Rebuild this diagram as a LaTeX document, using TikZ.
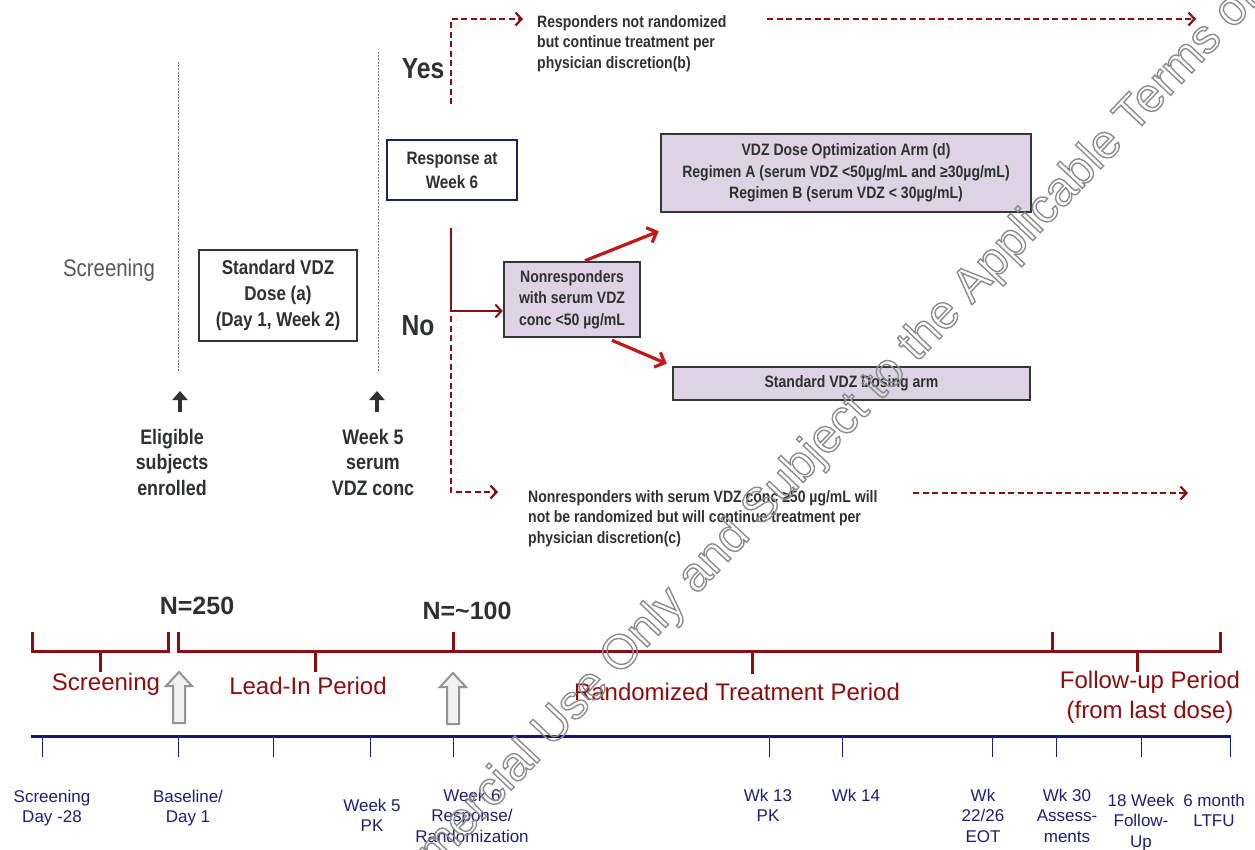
\documentclass[tikz,border=0pt]{standalone}
\usepackage{fontspec}
\setmainfont{Liberation Sans}
\newfontfamily\nar{Liberation Sans}[FakeStretch=0.85]
\usetikzlibrary{arrows.meta,calc}
\definecolor{dred}{RGB}{139,14,14}
\definecolor{bred}{RGB}{196,22,22}
\definecolor{navyt}{RGB}{30,30,118}
\definecolor{navyl}{RGB}{20,20,110}
\definecolor{dtxt}{RGB}{45,50,46}
\definecolor{lil}{RGB}{221,211,229}
\definecolor{boxb}{RGB}{50,56,52}
\definecolor{rbord}{RGB}{25,35,100}
\definecolor{scrg}{RGB}{89,89,89}
\begin{document}
\begin{tikzpicture}[x=1pt,y=-1pt,
  box/.style={draw=boxb, line width=2.6pt, fill=lil, align=center, inner sep=0pt, text=dtxt,
    font=\nar\bfseries\fontsize{16.5}{21.5}\selectfont},
  btxt/.style={align=left, inner sep=0pt, text=dtxt, font=\nar\bfseries\fontsize{16.5}{20.5}\selectfont},
  bigb/.style={inner sep=0pt, text=dtxt, font=\nar\bfseries\fontsize{29}{32}\selectfont},
  lbl/.style={align=center, inner sep=0pt, text=dtxt, font=\nar\bfseries\fontsize{21}{25.5}\selectfont},
  dashline/.style={draw=dred, line width=2.2pt, dash pattern=on 6pt off 3.5pt,
    -{Straight Barb[length=6pt,width=13pt]}},
  solidred/.style={draw=dred, line width=2pt},
  redarrow/.style={draw=bred, line width=3.2pt, -{Straight Barb[length=8pt,width=16pt]}},
  guide/.style={draw=gray, line width=0.7pt, dash pattern=on 2pt off 1.2pt},
  uparr/.style={draw=dtxt, line width=4pt, -{Triangle[length=9pt,width=15pt]}},
  brk/.style={draw=dred, line width=3pt},
  per/.style={inner sep=0pt, text=dred, align=center, font=\fontsize{24}{30}\selectfont},
  nlab/.style={inner sep=0pt, text=dtxt, font=\bfseries\fontsize{25}{28}\selectfont},
  hollow/.style={draw=gray!85, fill=gray!10, line width=2pt, line join=miter},
  navy/.style={draw=navyl, line width=3pt},
  ntick/.style={draw=navyt, line width=1pt},
  tl/.style={align=center, inner sep=0pt, anchor=north, text=navyt, font=\fontsize{17}{20.5}\selectfont}
]
\useasboundingbox (0,0) rectangle (1255,849);

% ---------- top flow ----------
\node[text=scrg, inner sep=0pt, font=\nar\fontsize{24}{28}\selectfont] (scrtop) at (109,270) {Screening};

\draw[guide] (178,62) -- (178,372);
\draw[guide] (378,52) -- (378,372);

\node[box, fill=white, minimum width=158pt, minimum height=91pt,
  font=\nar\bfseries\fontsize{20}{26}\selectfont] (std) at (278,295.5)
  {Standard VDZ\\Dose (a)\\(Day 1, Week 2)};

\coordinate (a1s) at (180,412);
\coordinate (a1e) at (180,391);
\coordinate (a2s) at (377,412);
\coordinate (a2e) at (377,391);
\draw[uparr] (a1s) -- (a1e);
\draw[uparr] (a2s) -- (a2e);

\node[lbl, anchor=north] (elig) at (172,429) {Eligible\\subjects\\enrolled};
\node[lbl, anchor=north] (wk5) at (373,429) {Week 5\\serum\\VDZ conc};

\node[bigb] (yes) at (423,69) {Yes};
\node[bigb] (no) at (418,326) {No};

\node[box, fill=white, draw=rbord, line width=2pt, minimum width=130pt, minimum height=60pt,
  font=\nar\bfseries\fontsize{18}{24}\selectfont] (resp) at (452,170) {Response at\\Week 6};

\node[btxt, anchor=north west] (resptxt) at (537,15)
  {Responders not randomized\\but continue treatment per\\physician discretion(b)};
\node[btxt, anchor=north west] (nrtxt) at (528,490)
  {Nonresponders with serum VDZ conc ≥50 µg/mL will\\not be randomized but will continue treatment per\\physician discretion(c)};

\node[box, minimum width=136pt, minimum height=75pt] (nonresp) at (572,299.5)
  {Nonresponders\\with serum VDZ\\conc <50 µg/mL};
\node[box, minimum width=370pt, minimum height=78pt] (vdz) at (846,173)
  {VDZ Dose Optimization Arm (d)\\Regimen A (serum VDZ <50µg/mL and ≥30µg/mL)\\Regimen B (serum VDZ < 30µg/mL)};
\node[box, minimum width=357pt, minimum height=33pt] (stdarm) at (851.5,383.5)
  {Standard VDZ Dosing arm};

% red connectors
\coordinate (ytop) at (451,104);
\coordinate (ycorner) at (451,19);
\draw[dashline] (ytop) -- (ycorner) -- ($(ycorner -| resptxt.west)+(-14,0)$);
\coordinate (yl1) at (767,19);
\coordinate (yl2) at (1196,19);
\draw[dashline] (yl1) -- (yl2);

\coordinate (ntop) at (451,228);
\coordinate (nj) at (451,311);
\draw[solidred, -{Straight Barb[length=6pt,width=13pt]}] (ntop) -- (nj) -- (nj -| nonresp.west);
\coordinate (nds) at (451,316);
\coordinate (ndc) at (451,492);
\draw[dashline] (nds) -- (ndc) -- ($(ndc -| nrtxt.west)+(-30,0)$);
\coordinate (nl1) at (913,493);
\coordinate (nl2) at (1188,493);
\draw[dashline] (nl1) -- (nl2);

\draw[redarrow] ($(nonresp.north)+(13,0)$) -- ($(vdz.south west)+(-1,18)$);
\draw[redarrow] ($(nonresp.south)+(40,2)$) -- ($(stdarm.north west)+(-5,-2)$);

% ---------- period timeline ----------
\node[nlab] (n250) at (197,606) {N=250};
\node[nlab] (n100) at (467,611) {N=\textasciitilde100};

\draw[brk] (32,632) -- (32,651) -- (168,651) -- (168,632);
\draw[brk] (100,651) -- (100,672);
\draw[brk] (178,632) -- (178,651) -- (1220,651) -- (1220,632);
\draw[brk] (453,632) -- (453,651);
\draw[brk] (315,651) -- (315,672);
\draw[brk] (752,651) -- (752,674);
\draw[brk] (1052,632) -- (1052,651);
\draw[brk] (1137,651) -- (1137,672);

\node[per] (pscr) at (106,684) {Screening};
\node[per] (plead) at (308,686) {Lead-In Period};
\node[per] (prand) at (737,692) {Randomized Treatment Period};
\node[per] (pfol) at (1150,697) {Follow-up Period\\(from last dose)};

\coordinate (h1) at (179,672);
\coordinate (h2) at (453,673);
\draw[hollow] (h1) -- ++(13,14) -- ++(-7,0) -- ++(0,37) -- ++(-12,0) -- ++(0,-37) -- ++(-7,0) -- cycle;
\draw[hollow] (h2) -- ++(13,14) -- ++(-7,0) -- ++(0,37) -- ++(-12,0) -- ++(0,-37) -- ++(-7,0) -- cycle;

% ---------- visit timeline ----------
\draw[navy] (31,736) -- (1231,736);
\foreach \x in {42,178,273,370,453,769,842,992,1056,1141,1230}
  \draw[ntick] (\x,737) -- (\x,757);

\node[tl] (v1) at (52,789.5) {Screening\\Day -28};
\node[tl] (v2) at (188,789.5) {Baseline/\\Day 1};
\node[tl] (v3) at (372,798.5) {Week 5\\PK};
\node[tl] (v4) at (472,788.5) {Week 6\\Response/\\Randomization};
\node[tl] (v5) at (768,788.5) {Wk 13\\PK};
\node[tl] (v6) at (856,788.5) {Wk 14};
\node[tl] (v7) at (983,788.5) {Wk\\22/26\\EOT};
\node[tl] (v8) at (1067,788.5) {Wk 30\\Assess-\\ments};
\node[tl] (v9) at (1141,793.5) {18 Week\\Follow-\\Up};
\node[tl] (v10) at (1214,793.5) {6 month\\LTFU};

% ---------- watermark ----------
\begin{scope}
\clip (0,0) rectangle (1255,849);
\node[rotate=46.5, anchor=base, inner sep=0pt, text=gray!90, font=\fontsize{48}{48}\selectfont] (wm) at (724,566)
  {\special{pdf:literal direct 1 Tr 1.4 w}\llap{For Non-Commercial Use Only }and\rlap{ Subject to the Applicable Terms of Use}\special{pdf:literal direct 0 Tr}};
\end{scope}
\end{tikzpicture}
\end{document}
